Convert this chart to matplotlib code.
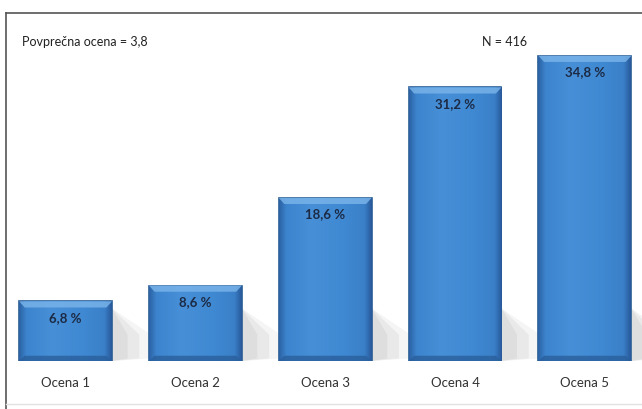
import matplotlib.pyplot as plt
import numpy as np
from matplotlib.colors import LinearSegmentedColormap
from matplotlib.lines import Line2D

categories = ["Ocena 1", "Ocena 2", "Ocena 3", "Ocena 4", "Ocena 5"]
percentages = [6.8, 8.6, 18.6, 31.2, 34.8]
value_labels = ["6,8 %", "8,6 %", "18,6 %", "31,2 %", "34,8 %"]
mean_text = "Povprečna ocena = 3,8"
n_text = "N = 416"

plt.rcParams["font.family"] = ["Lato", "DejaVu Sans"]

fig = plt.figure(figsize=(6.42, 4.09), dpi=100)
W, H = 642, 409

# outer frame of the chart area
fig.add_artist(Line2D([6 / W, 6 / W], [0, 1 - 13 / H], color="#555555", lw=1.2))
fig.add_artist(Line2D([6 / W, 1], [1 - 13 / H, 1 - 13 / H], color="#555555", lw=1.2))
fig.add_artist(Line2D([6 / W, 1], [1 - 404 / H, 1 - 404 / H], color="#e2e2e2", lw=1.0))

# axes placed so bar centres land at 66, 196, ... px and baseline at y=361 px
ax = fig.add_axes([6.5 / W, (H - 361) / H, (W - 6.5) / W, (361 - 14) / H])
ax.set_xlim(-0.455, 4.44)
ax.set_ylim(0, 347 / 8.77)
ax.axis("off")

x = np.arange(len(categories))
width = 0.715

# soft shadows behind the bars
for xi, val in zip(x, percentages):
    sh_h = min(val, 6.0)
    for k, a in enumerate([0.25, 0.2, 0.15]):
        ext = 0.12 + 0.09 * k
        ax.fill([xi + width / 2, xi + width / 2 + ext, xi + width / 2 + ext, xi + width / 2],
                [0, 0.3, sh_h * 0.5, sh_h], color="#bdbdbd", alpha=a, lw=0, zorder=1)

bars = ax.bar(x, percentages, width=width, color="#3d86cf", edgecolor="#2a5c93",
              linewidth=1.2, zorder=2)

# horizontal gradient inside each bar (darker sides, lighter middle)
cmap = LinearSegmentedColormap.from_list(
    "bevel", [(0, "#2b62a3"), (0.08, "#3c84cd"), (0.35, "#4790d8"),
              (0.7, "#3f89d2"), (0.92, "#3a80c8"), (1, "#28599a")])
grad = np.linspace(0, 1, 256).reshape(1, -1)
for bar in bars:
    bx, by = bar.get_x(), bar.get_y()
    bw, bh = bar.get_width(), bar.get_height()
    im = ax.imshow(grad, extent=[bx, bx + bw, by, by + bh], cmap=cmap,
                   aspect="auto", zorder=2.5)
    im.set_clip_path(bar)
    # light top bevel strip
    ax.fill([bx, bx + bw, bx + bw * 0.94, bx + bw * 0.06],
            [by + bh, by + bh, by + bh - 0.7, by + bh - 0.7],
            color="#78b2e8", alpha=0.85, lw=0, zorder=2.6)
    # darker bottom bevel strip
    ax.fill([bx, bx + bw, bx + bw * 0.94, bx + bw * 0.06],
            [by, by, by + 0.6, by + 0.6],
            color="#2a5f9c", alpha=0.8, lw=0, zorder=2.6)

for xi, val, lab in zip(x, percentages, value_labels):
    ax.text(xi, val - 1.9, lab, ha="center", va="center", fontsize=9.5,
            fontweight="bold", color="#1c2a44", zorder=3)

for xi, cat in zip(x, categories):
    ax.text(xi, -2.5, cat, ha="center", va="center", fontsize=9.5,
            color="#333333", clip_on=False)

fig.text(22 / W, 1 - 42 / H, mean_text, ha="left", va="center", fontsize=9, color="#222222")
fig.text(482 / W, 1 - 42 / H, n_text, ha="left", va="center", fontsize=9, color="#222222")

fig.savefig("out.png", dpi=100, facecolor="white")
